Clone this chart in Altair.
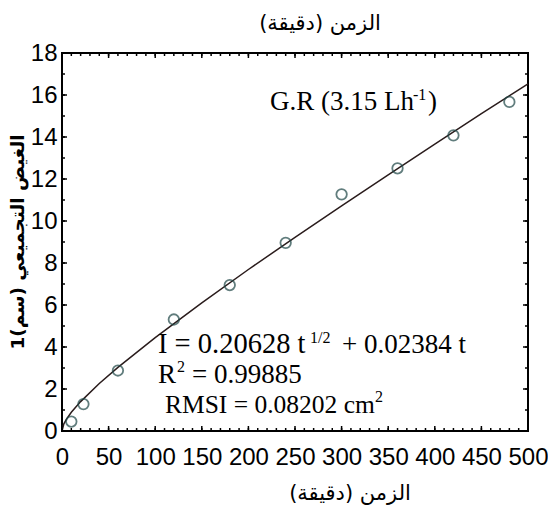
import altair as alt
import pandas as pd

# ---------------- data ----------------
# observed cumulative infiltration (points)
t_obs = [10, 23, 60, 120, 180, 240, 300, 360, 420, 480]
i_obs = [0.45, 1.28, 2.88, 5.31, 6.95, 8.96, 11.27, 12.51, 14.08, 15.67]

# fitted curve
t_fit = [0, 2, 5, 10, 20, 40, 60, 100, 150, 200, 250, 300, 350, 400, 450, 500]
i_fit = [0, 0.34, 0.58, 0.89, 1.40, 2.26, 3.03, 4.45, 6.10, 7.69, 9.22, 10.72,
         12.20, 13.66, 15.11, 16.53]

# axis ticks / labels
x_major = [0, 50, 100, 150, 200, 250, 300, 350, 400, 450, 500]
x_minor = list(range(0, 501, 10))
y_major = [0, 2, 4, 6, 8, 10, 12, 14, 16, 18]
y_minor = list(range(0, 19))

x_title = "الزمن (دقيقة)\u200F"
y_title = "الغيض التجميعي (سم)1"

# ---------------- chart ----------------
W, H = 466, 378
XS = alt.Scale(domain=[0, 500], nice=False, zero=False)
YS = alt.Scale(domain=[0, 18], nice=False, zero=False)
XA = alt.Axis(values=x_major, labelFlush=False, labelOverlap=False, labelPadding=14,
              ticks=False, tickSize=0, domain=False, grid=False)
YA = alt.Axis(values=y_major, labelFlush=False, labelOverlap=False, labelPadding=5,
              ticks=False, tickSize=0, domain=False, grid=False)


def X():
    return alt.X("t:Q", scale=XS, axis=XA, title=None)


def Y():
    return alt.Y("I:Q", scale=YS, axis=YA, title=None)


fit_df = pd.DataFrame({"t": t_fit, "I": i_fit})
obs_df = pd.DataFrame({"t": t_obs, "I": i_obs})
one = pd.DataFrame({"k": [0]})

line = alt.Chart(fit_df).mark_line(color="#2a1c1c", strokeWidth=1.5).encode(x=X(), y=Y())

points = alt.Chart(obs_df).mark_point(
    shape="circle", filled=False, size=110, color="#1f4747", strokeWidth=1.8
).encode(x=X(), y=Y())


def xticks(vals, length):
    d = pd.DataFrame({"t": vals})
    base = alt.Chart(d).mark_rule(color="black", strokeWidth=1.5)
    bot = base.encode(x=X(), y=alt.value(H), y2=alt.value(H - length))
    top = base.encode(x=X(), y=alt.value(0), y2=alt.value(length))
    return [bot, top]


def yticks(vals, length):
    d = pd.DataFrame({"I": vals})
    base = alt.Chart(d).mark_rule(color="black", strokeWidth=1.5)
    left = base.encode(y=Y(), x=alt.value(0), x2=alt.value(length))
    right = base.encode(y=Y(), x=alt.value(W), x2=alt.value(W - length))
    return [left, right]


def txt(s, x, y, size, font="Liberation Serif", **kw):
    return alt.Chart(one).mark_text(
        text=s, font=font, fontSize=size, color="black",
        align=kw.pop("align", "left"), baseline=kw.pop("baseline", "alphabetic"), **kw
    ).encode(x=alt.value(x), y=alt.value(y))


annots = [
    txt("G.R (3.15 Lh", 208, 57, 27),
    txt("-1", 351, 47, 16),
    txt(")", 366, 57, 27),
    txt("I = 0.20628 t", 96, 300, 28.5),
    txt("1/2", 248, 290, 16),
    txt("+ 0.02384 t", 280, 300, 27),
    txt("R", 96, 330, 27),
    txt("2", 115, 319, 16),
    txt("= 0.99885", 130, 330, 27),
    txt("RMSI = 0.08202 cm", 103, 360, 25.5),
    txt("2", 313, 349, 16),
    # titles
    txt(x_title, 258, -29, 21, font="DejaVu Sans", align="center", baseline="middle"),
    txt(x_title, 288, 441, 21, font="DejaVu Sans", align="center", baseline="middle"),
    txt(y_title, -44, 189, 18.5, font="DejaVu Sans", align="center", baseline="middle",
        angle=270, fontWeight="bold"),
]

layers = [line, points] + xticks(x_minor, 3) + xticks(x_major, 5) + \
    yticks(y_minor, 3) + yticks(y_major, 5) + annots

chart = alt.layer(*layers).properties(
    width=W, height=H, autosize="none",
    padding={"left": 62, "top": 53, "right": 20, "bottom": 75},
    background="white",
).configure_view(stroke="black", strokeWidth=2).configure_axis(
    labelFont="'Liberation Sans Narrow', 'Liberation Sans', sans-serif",
    labelFontSize=24, labelColor="black"
)

chart.save("out.html", embed_options={"renderer": "svg", "actions": False})
